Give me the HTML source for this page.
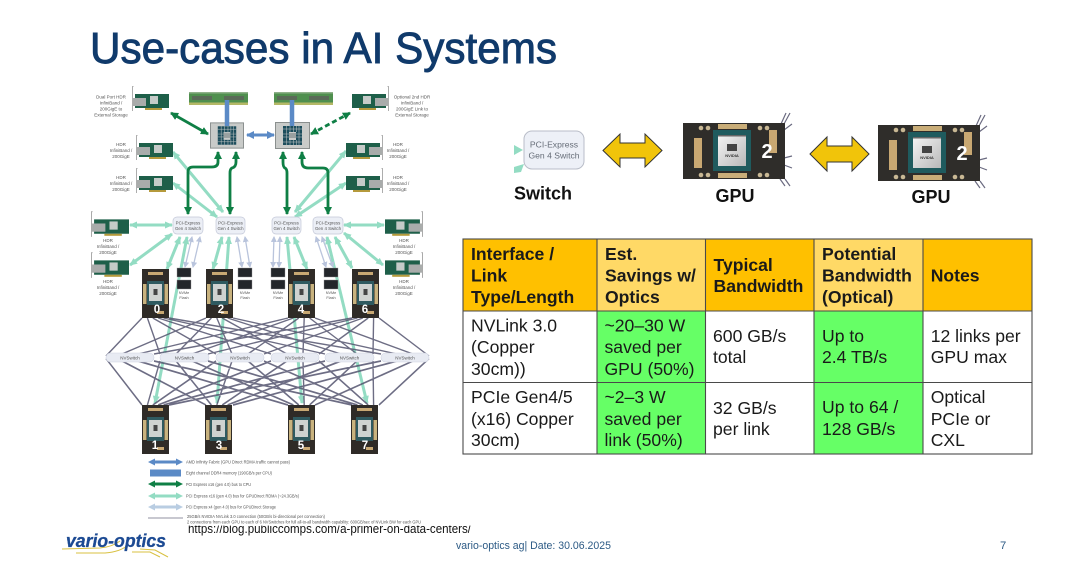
<!DOCTYPE html>
<html><head><meta charset="utf-8"><style>
html,body{margin:0;padding:0;background:#fff;width:1080px;height:568px;overflow:hidden}
svg{display:block}
text{font-family:"Liberation Sans",Arial,sans-serif}
.t{font-size:17.6px;fill:#1a1a1a}
.h{font-size:17.6px;font-weight:bold;fill:#1a1a1a}
.s{font-size:4.5px;fill:#555;text-anchor:middle}
.sw{font-size:4.4px;fill:#555;text-anchor:middle}
.lg{font-size:4.2px;fill:#555}
.g{fill:#fff;font-weight:bold;font-size:11.5px;text-anchor:middle}
.diagram{filter:blur(.35px)}
</style></head><body>
<svg width="1080" height="568" viewBox="0 0 1080 568" xmlns="http://www.w3.org/2000/svg">
<defs>
<marker id="mDG" markerUnits="userSpaceOnUse" markerWidth="9" markerHeight="9" refX="7" refY="4" orient="auto-start-reverse"><path d="M0 0L8 4L0 8Z" fill="#0f7f45"/></marker>
<marker id="mLG" markerUnits="userSpaceOnUse" markerWidth="9" markerHeight="9" refX="7" refY="4" orient="auto-start-reverse"><path d="M0 .5L8 4L0 7.5Z" fill="#93dcc3"/></marker>
<marker id="mGR" markerUnits="userSpaceOnUse" markerWidth="7" markerHeight="7" refX="5" refY="3" orient="auto-start-reverse"><path d="M0 0L6 3L0 6Z" fill="#b9c4dc"/></marker>
<marker id="mBL" markerUnits="userSpaceOnUse" markerWidth="9" markerHeight="9" refX="7" refY="4" orient="auto-start-reverse"><path d="M0 0L8 4L0 8Z" fill="#5b8ac6"/></marker>

<symbol id="nic" viewBox="0 0 37 25" overflow="visible">
<path d="M1.500 .5H.5V25" stroke="#999" stroke-width=".8" fill="none"/>
<rect x="3" y="8" width="34" height="14" fill="#1e5f49"/>
<rect x="1" y="12" width="13" height="8" fill="#a9acab"/>
<rect x="18" y="10" width="8" height="8" fill="#c5cbc8"/>
<rect x="13" y="22" width="17" height="2" fill="#b59a3c"/>
</symbol>
<symbol id="ram" viewBox="0 0 59 13">
<rect width="59" height="13" fill="#4f8f4e"/>
<rect x="3" y="4" width="20" height="4" fill="#5a6a58"/>
<rect x="35" y="4" width="20" height="4" fill="#5a6a58"/>
<rect x="0" y="0" width="59" height="1.500" fill="#8fb08a"/>
<rect x="0" y="10.500" width="59" height="2.500" fill="#b4b866"/>
</symbol>
<symbol id="cpu" viewBox="0 0 35 27">
<rect x=".5" y=".5" width="34" height="26" fill="#c9cbc9" stroke="#8a8f8e"/>
<g fill="#1c4d5c">
<rect x="8" y="4" width="19" height="6"/><rect x="8" y="10" width="6" height="8"/><rect x="21" y="10" width="6" height="8"/><rect x="8" y="18" width="19" height="5"/>
</g>
<rect x="14" y="11" width="7" height="5" fill="#99a0a0"/>
<path d="M11.500 4V23M15 4V10M18.500 4V10M21.500 4V10M24 4V23M15 18V23M18.500 18V23M21.500 18V23M8 7H27M8 12H14M21 12H27M8 15H14M21 15H27M8 20H27" stroke="#c9cbc9" stroke-width=".5"/>
</symbol>
<symbol id="vg" viewBox="0 0 27 49">
<rect width="27" height="49" fill="#2f2b27"/>
<rect x="6" y="3" width="15" height="3" fill="#c8a873"/>
<rect x="1" y="15" width="3.500" height="20" fill="#c8b27e"/>
<rect x="22.500" y="15" width="3.500" height="20" fill="#c8b27e"/>
<rect x="5" y="12" width="17" height="24" fill="#2f5a60"/>
<rect x="7" y="15" width="13" height="17" fill="#cfd2d0"/>
<rect x="11.500" y="20" width="4" height="6" fill="#444"/>
<rect x="15" y="42" width="7" height="3" fill="#c8a873"/>
</symbol>
<symbol id="card" viewBox="0 0 102 56">
<rect width="102" height="56" fill="#2f2d2a"/>
<rect x="35" y="1" width="29" height="5" fill="#c9ad78"/>
<rect x="35" y="50" width="29" height="5" fill="#c9ad78"/>
<rect x="11" y="15" width="8" height="30" fill="#c9a872"/>
<rect x="86" y="7" width="8" height="23" fill="#c9a872"/>
<rect x="30" y="7" width="38" height="41" fill="#1f5b5e"/>
<defs><linearGradient id="chip" x1="0" y1="0" x2="1" y2="1"><stop offset="0" stop-color="#f4f4f4"/><stop offset="1" stop-color="#b9b9b9"/></linearGradient></defs>
<rect x="35" y="12" width="28" height="31" fill="url(#chip)"/>
<rect x="35" y="12" width="28" height="1.500" fill="#666"/>
<rect x="44" y="21" width="10" height="7" fill="#444"/>
<text x="49" y="34" font-size="4" font-weight="bold" fill="#333" text-anchor="middle">NVIDIA</text>
<g fill="#c9b894"><circle cx="18" cy="5" r="2.300"/><circle cx="25" cy="5" r="2.300"/><circle cx="77" cy="5" r="2.300"/><circle cx="84" cy="5" r="2.300"/><circle cx="18" cy="52" r="2.300"/><circle cx="25" cy="52" r="2.300"/><circle cx="77" cy="52" r="2.300"/><circle cx="84" cy="52" r="2.300"/></g>
<text x="84" y="35" font-size="20" font-weight="bold" fill="#fff" text-anchor="middle">2</text>
</symbol>
</defs>

<rect width="1080" height="568" fill="#fff"/>

<!-- Title -->
<text x="90" y="63" font-size="44" fill="#103a6b" stroke="#103a6b" stroke-width=".9" textLength="467" lengthAdjust="spacingAndGlyphs">Use-cases in AI Systems</text>

<!-- URL, top cropped by the diagram image -->
<text x="188" y="533" font-size="12.5" fill="#111" textLength="283" lengthAdjust="spacingAndGlyphs">https://blog.publiccomps.com/a-primer-on-data-centers/</text>
<rect x="185" y="512" width="295" height="13.6" fill="#fff"/>

<g class="diagram">
<!-- Light green links -->
<g fill="none" stroke="#93dcc3" stroke-width="3" marker-start="url(#mLG)" marker-end="url(#mLG)">
<path d="M130 225H172"/><path d="M130 265L172 234"/>
<path d="M173 152L223 212"/><path d="M173 183L217 217"/>
<path d="M346 151L295 212"/><path d="M346 183L295 217"/>
<path d="M344 225H384"/><path d="M344 233L383 265"/>
<path d="M180 237L167 269"/><path d="M187 237L155 403"/>
<path d="M222 237L213 269"/><path d="M229 237L217 403"/>
<path d="M287 237L302 403"/><path d="M294 237L307 269"/>
<path d="M327 237L367 403"/><path d="M335 237L352 268"/>
</g>

<!-- NVLink mesh -->
<g fill="none" stroke="#54546e" stroke-width="1.4" stroke-opacity=".85">
<path id="mesh" d="M142 318L106 356M147.4 318L160 354M152.8 318L216 354M158.2 318L271 354M163.6 318L325 354M169 318L381 354
M206 318L122 354M211.4 318L176 354M216.8 318L232 354M222.2 318L287 354M227.6 318L341 354M233 318L397 354
M288 318L138 354M293.4 318L192 354M298.8 318L248 354M304.2 318L303 354M309.6 318L357 354M315 318L413 354
M352 318L154 354M357.4 318L208 354M362.8 318L264 354M368.2 318L319 354M373.6 318L373 354M379 318L429 356"/>
<use href="#mesh" transform="translate(0,361) scale(1,-1.222) translate(0,-354)"/>
</g>

<!-- NVSwitches -->
<g fill="#e8ebf3" stroke="#cfd4e2" stroke-width=".6">
<rect x="106" y="353" width="48" height="9" rx="4.5"/><rect x="160" y="353" width="49" height="9" rx="4.5"/><rect x="216" y="353" width="48" height="9" rx="4.5"/><rect x="271" y="353" width="48" height="9" rx="4.5"/><rect x="325" y="353" width="49" height="9" rx="4.5"/><rect x="381" y="353" width="48" height="9" rx="4.5"/>
</g>
<text class="s" x="130" y="359.5">NVSwitch</text><text class="s" x="184.5" y="359.5">NVSwitch</text><text class="s" x="240" y="359.5">NVSwitch</text><text class="s" x="295" y="359.5">NVSwitch</text><text class="s" x="349.5" y="359.5">NVSwitch</text><text class="s" x="405" y="359.5">NVSwitch</text>

<!-- GPU top/bottom -->
<use href="#vg" x="142" y="269" width="27" height="49"/><use href="#vg" x="206" y="269" width="27" height="49"/><use href="#vg" x="288" y="269" width="27" height="49"/><use href="#vg" x="352" y="269" width="27" height="49"/>
<use href="#vg" x="142" y="405" width="27" height="49"/><use href="#vg" x="205" y="405" width="27" height="49"/><use href="#vg" x="288" y="405" width="27" height="49"/><use href="#vg" x="351" y="405" width="27" height="49"/>
<text class="g" x="157" y="313">0</text><text class="g" x="221" y="313">2</text><text class="g" x="301" y="313">4</text><text class="g" x="365" y="313">6</text>
<text class="g" x="155" y="449">1</text><text class="g" x="219" y="449">3</text><text class="g" x="301" y="449">5</text><text class="g" x="365" y="449">7</text>

<!-- Grey links -->
<g fill="none" stroke="#b9c4dc" stroke-width="1.3" marker-start="url(#mGR)" marker-end="url(#mGR)">
<path d="M192 237L185 267"/><path d="M200 237L193 267"/>
<path d="M237 237L242 267"/><path d="M245 237L250 267"/>
<path d="M274 237L273 267"/><path d="M280 237L279 267"/>
<path d="M316 237L326 267"/><path d="M322 237L333 267"/>
</g>

<!-- NVMe -->
<g fill="#23262a" stroke="#9a9a9a" stroke-width=".4">
<rect x="177" y="268" width="14" height="9"/><rect x="177" y="280" width="14" height="9"/>
<rect x="238" y="268" width="14" height="9"/><rect x="238" y="280" width="14" height="9"/>
<rect x="271" y="268" width="14" height="9"/><rect x="271" y="280" width="14" height="9"/>
<rect x="324" y="268" width="14" height="9"/><rect x="324" y="280" width="14" height="9"/>
</g>
<text class="sw" x="184" y="294" style="font-size:3.8px">NVMe</text><text class="sw" x="184" y="299" style="font-size:3.8px">Flash</text>
<text class="sw" x="245" y="294" style="font-size:3.8px">NVMe</text><text class="sw" x="245" y="299" style="font-size:3.8px">Flash</text>
<text class="sw" x="278" y="294" style="font-size:3.8px">NVMe</text><text class="sw" x="278" y="299" style="font-size:3.8px">Flash</text>
<text class="sw" x="331" y="294" style="font-size:3.8px">NVMe</text><text class="sw" x="331" y="299" style="font-size:3.8px">Flash</text>

<!-- PCIe switches -->
<g fill="#eceff6" stroke="#c3c8d8" stroke-width=".7">
<rect x="173" y="217" width="30" height="17" rx="4"/><rect x="216" y="217" width="29" height="17" rx="4"/><rect x="272" y="217" width="29" height="17" rx="4"/><rect x="313" y="217" width="30" height="17" rx="4"/>
</g>
<text class="sw" x="188" y="224.5">PCI-Express</text><text class="sw" x="188" y="230">Gen 4 Switch</text>
<text class="sw" x="230.5" y="224.5">PCI-Express</text><text class="sw" x="230.5" y="230">Gen 4 Switch</text>
<text class="sw" x="286.5" y="224.5">PCI-Express</text><text class="sw" x="286.5" y="230">Gen 4 Switch</text>
<text class="sw" x="328" y="224.5">PCI-Express</text><text class="sw" x="328" y="230">Gen 4 Switch</text>

<!-- CPUs & RAM -->
<use href="#ram" x="189" y="92" width="59" height="13"/><use href="#ram" x="274" y="92" width="59" height="13"/>
<use href="#cpu" x="210" y="122" width="34" height="27"/><use href="#cpu" x="275" y="122" width="35" height="27"/>
<path d="M227 100V126M292 100V126" stroke="#5b8ac6" stroke-width="4.5" fill="none"/>
<path d="M247 135H274" stroke="#5b8ac6" stroke-width="3" fill="none" marker-start="url(#mBL)" marker-end="url(#mBL)"/>

<!-- Dark green -->
<g fill="none" stroke="#0f7f45" stroke-width="2.8" marker-start="url(#mDG)" marker-end="url(#mDG)">
<path d="M218 152V162Q218 167 212 167H193Q188 167 188 172V214"/>
<path d="M236 152V162Q236 167 232 168Q230 169 230 173V214"/>
<path d="M283 152V162Q283 167 285 168Q287 169 287 173V214"/>
<path d="M302 152V162Q302 168 308 168H323Q328 168 328 173V214"/>
<path d="M171 113L208 134"/>
<path d="M311 134L350 113" stroke-dasharray="5 3"/>
</g>

<!-- NICs -->
<use href="#nic" x="132" y="86" width="37" height="25"/>
<use href="#nic" x="136" y="135" width="37" height="25"/><use href="#nic" x="136" y="168" width="37" height="25"/>
<use href="#nic" x="91" y="211" width="38" height="26"/><use href="#nic" x="91" y="252" width="38" height="26"/>
<use href="#nic" transform="translate(389,86) scale(-1,1)" width="37" height="25"/>
<use href="#nic" transform="translate(383,135) scale(-1,1)" width="37" height="25"/><use href="#nic" transform="translate(383,168) scale(-1,1)" width="37" height="25"/>
<use href="#nic" transform="translate(423,211) scale(-1,1)" width="38" height="26"/><use href="#nic" transform="translate(423,252) scale(-1,1)" width="38" height="26"/>

<!-- NIC labels -->
<text class="s" x="111" y="98.5">Dual Port HDR</text><text class="s" x="111" y="104.5">InfiniBand /</text><text class="s" x="111" y="110.5">200GigE to</text><text class="s" x="111" y="116.5">External Storage</text>
<text class="s" x="412" y="98.5">Optional 2nd HDR</text><text class="s" x="412" y="104.5">InfiniBand /</text><text class="s" x="412" y="110.5">200GigE Link to</text><text class="s" x="412" y="116.5">External Storage</text>
<text class="s" x="121" y="146">HDR</text><text class="s" x="121" y="152">InfiniBand /</text><text class="s" x="121" y="158">200GigE</text>
<text class="s" x="121" y="179">HDR</text><text class="s" x="121" y="185">InfiniBand /</text><text class="s" x="121" y="191">200GigE</text>
<text class="s" x="108" y="242">HDR</text><text class="s" x="108" y="248">InfiniBand /</text><text class="s" x="108" y="254">200GigE</text>
<text class="s" x="108" y="283">HDR</text><text class="s" x="108" y="289">InfiniBand /</text><text class="s" x="108" y="295">200GigE</text>
<text class="s" x="398" y="146">HDR</text><text class="s" x="398" y="152">InfiniBand /</text><text class="s" x="398" y="158">200GigE</text>
<text class="s" x="398" y="179">HDR</text><text class="s" x="398" y="185">InfiniBand /</text><text class="s" x="398" y="191">200GigE</text>
<text class="s" x="404" y="242">HDR</text><text class="s" x="404" y="248">InfiniBand /</text><text class="s" x="404" y="254">200GigE</text>
<text class="s" x="404" y="283">HDR</text><text class="s" x="404" y="289">InfiniBand /</text><text class="s" x="404" y="295">200GigE</text>

<!-- Legend -->
<path d="M148 462L155 458.5V460.5H176V458.5L183 462L176 465.5V463.5H155V465.5Z" fill="#5b8ac6"/>
<path d="M150 469.5H181V476.5H150Z" fill="#5b8ac6"/>
<path d="M148 484L155 480.5V482.5H176V480.5L183 484L176 487.5V485.5H155V487.5Z" fill="#0f7f45"/>
<path d="M148 496L155 492.5V494.5H176V492.5L183 496L176 499.5V497.5H155V499.5Z" fill="#93dcc3"/>
<path d="M148 507L155 503.5V505.5H176V503.5L183 507L176 510.5V508.5H155V510.5Z" fill="#b9cde2"/>
<path d="M148 518H183" stroke="#6c6c80" stroke-width=".8"/>
<text class="lg" x="186" y="463.5" textLength="104" lengthAdjust="spacingAndGlyphs">AMD Infinity Fabric (GPU Direct RDMA traffic cannot pass)</text>
<text class="lg" x="186" y="474.5" textLength="86" lengthAdjust="spacingAndGlyphs">Eight channel DDR4 memory (190GB/s per CPU)</text>
<text class="lg" x="186" y="486" textLength="65" lengthAdjust="spacingAndGlyphs">PCI Express x16 (gen 4.0) bus to CPU</text>
<text class="lg" x="186" y="497.5" textLength="113" lengthAdjust="spacingAndGlyphs">PCI Express x16 (gen 4.0) bus for GPUDirect RDMA (~24.3GB/s)</text>
<text class="lg" x="186" y="508.5" textLength="90" lengthAdjust="spacingAndGlyphs">PCI Express x4 (gen 4.0) bus for GPUDirect Storage</text>
<text class="lg" x="187" y="518" textLength="138" lengthAdjust="spacingAndGlyphs">25GB/s NVIDIA NVLink 3.0 connection (50GB/s bi-directional per connection)</text>
<text class="lg" x="187" y="523.5" textLength="234" lengthAdjust="spacingAndGlyphs">2 connections from each GPU to each of 6 NVSwitches for full all-to-all bandwidth capability: 600GB/sec of NVLink BW for each GPU</text>
</g>

<!-- Logo -->
<g fill="none" stroke="#d8c040" stroke-width="1">
<path d="M62 549L100 548Q112 547 120 541"/><path d="M76 553H105Q120 552 128 545"/><path d="M140 549L155 550L168 557"/><path d="M132 552H150L160 557"/>
</g>
<text x="66" y="547" font-size="18" font-weight="bold" font-style="italic" fill="#1c4a93" stroke="#1c4a93" stroke-width=".3" textLength="100" lengthAdjust="spacingAndGlyphs">vario-optics</text>

<!-- Footer -->
<text x="456" y="549" font-size="11.3" fill="#2c5a85" textLength="155" lengthAdjust="spacingAndGlyphs">vario-optics ag| Date: 30.06.2025</text>
<text x="1000" y="549" font-size="11.3" fill="#2c5a85">7</text>

<!-- Right top diagram -->
<g style="filter:blur(.3px)">
<path d="M514 145L523 150L514 155Z" fill="#93dcc3"/>
<path d="M514 167L524 164L521 172L514 173Z" fill="#93dcc3"/>
<rect x="524" y="131" width="60" height="38" rx="8" fill="#edf0f7" stroke="#b9bdc8" stroke-width="1"/>
<text x="554" y="147.500" font-size="8.6" fill="#666d78" text-anchor="middle">PCI-Express</text>
<text x="554" y="158.500" font-size="8.6" fill="#666d78" text-anchor="middle">Gen 4 Switch</text>
<path d="M786 113L781 124M790 113L784 124M784 130L792 124M784 158L792 156M784 165L792 168M780 179L785 186M785 179L790 186" stroke="#6a6a80" stroke-width="1.2" fill="none"/>
<path d="M981 115L976 126M985 115L979 126M979 132L987 126M979 160L987 158M979 167L987 170M975 181L980 188M980 181L985 188" stroke="#6a6a80" stroke-width="1.2" fill="none"/>
<use href="#card" x="683" y="123" width="102" height="56"/>
<use href="#card" x="878" y="125" width="102" height="56"/>
</g>
<path d="M603 150.5L620 134V143H645V134L662 150.5L645 167V158H620V167Z" fill="#f1c40a" stroke="#333" stroke-width="1"/>
<path d="M810 154L827 137V146H852V137L869 154L852 171V162H827V171Z" fill="#f1c40a" stroke="#333" stroke-width="1"/>
<text x="514" y="199.5" font-size="18" font-weight="bold" fill="#111">Switch</text>
<text x="735" y="202" font-size="18" font-weight="bold" fill="#111" text-anchor="middle">GPU</text>
<text x="931" y="203" font-size="18" font-weight="bold" fill="#111" text-anchor="middle">GPU</text>

<!-- Table -->
<rect x="463" y="239" width="569" height="72" fill="#ffc000"/>
<rect x="597" y="239" width="108.500" height="72" fill="#ffd966"/>
<rect x="814" y="239" width="109" height="72" fill="#ffd966"/>
<rect x="597" y="311" width="108.500" height="143" fill="#66ff66"/>
<rect x="814" y="311" width="109" height="143" fill="#66ff66"/>
<g stroke="#4a4a4a" stroke-width="1.1" fill="none">
<rect x="463" y="239" width="569" height="215"/>
<path d="M463 311H1032M463 382.500H1032M597 239V454M705.500 239V454M814 239V454M923 239V454"/>
</g>

<text class="h" x="471" y="260">Interface /</text><text class="h" x="471" y="281.700">Link</text><text class="h" x="471" y="303">Type/Length</text>
<text class="h" x="605" y="260">Est.</text><text class="h" x="605" y="281.700">Savings w/</text><text class="h" x="605" y="303">Optics</text>
<text class="h" x="713.500" y="271">Typical</text><text class="h" x="713.500" y="292">Bandwidth</text>
<text class="h" x="822" y="260">Potential</text><text class="h" x="822" y="281.700">Bandwidth</text><text class="h" x="822" y="303">(Optical)</text>
<text class="h" x="930.700" y="281.700">Notes</text>

<text class="t" x="471" y="331.700">NVLink 3.0</text><text class="t" x="471" y="353">(Copper</text><text class="t" x="471" y="375">30cm))</text>
<text class="t" x="471" y="403">PCIe Gen4/5</text><text class="t" x="471" y="425">(x16) Copper</text><text class="t" x="471" y="446">30cm)</text>
<text class="t" x="604.500" y="331.700">~20–30 W</text><text class="t" x="604.500" y="353">saved per</text><text class="t" x="604.500" y="375">GPU (50%)</text>
<text class="t" x="604.500" y="403">~2–3 W</text><text class="t" x="604.500" y="425">saved per</text><text class="t" x="604.500" y="446">link (50%)</text>
<text class="t" x="713" y="342">600 GB/s</text><text class="t" x="713" y="363">total</text>
<text class="t" x="713" y="414">32 GB/s</text><text class="t" x="713" y="435">per link</text>
<text class="t" x="822" y="342">Up to</text><text class="t" x="822" y="363">2.4 TB/s</text>
<text class="t" x="822" y="413">Up to 64 /</text><text class="t" x="822" y="435">128 GB/s</text>
<text class="t" x="930.700" y="342">12 links per</text><text class="t" x="930.700" y="363">GPU max</text>
<text class="t" x="930.700" y="403">Optical</text><text class="t" x="930.700" y="425">PCIe or</text><text class="t" x="930.700" y="446">CXL</text>
</svg>
</body></html>
